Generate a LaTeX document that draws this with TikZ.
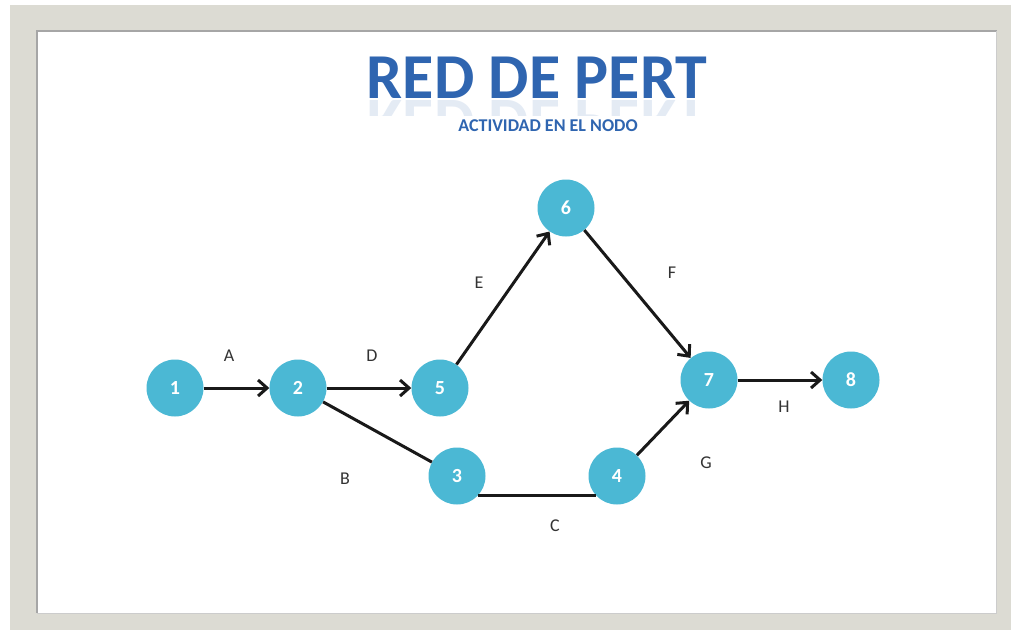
\documentclass[tikz,border=0pt]{standalone}
\usepackage{fontspec}
\setmainfont{Carlito}
\usetikzlibrary{arrows.meta,fadings}
\definecolor{nodeblue}{HTML}{4BB8D4}
\definecolor{titleblue}{HTML}{2F65B0}
\definecolor{frame}{HTML}{DCDBD3}
\definecolor{labelgray}{HTML}{333333}
\tikzset{
  pnode/.style={circle,fill=nodeblue,minimum size=57pt,inner sep=0pt,text=white,font=\fontsize{20}{22}\selectfont\bfseries},
  act/.style={line width=3pt,draw=black!90,-{Straight Barb[length=9pt,width=16pt,line width=3pt]}},
  actplain/.style={line width=3pt,draw=black!90},
  lbl/.style={text=labelgray,font=\fontsize{18}{20}\selectfont},
  titlefont/.style={text=titleblue,font=\fontsize{64}{64}\selectfont\bfseries}
}
\begin{document}
\begin{tikzpicture}[x=1pt,y=-1pt]
\useasboundingbox (0,0) rectangle (1011,630);
\fill[white] (0,0) rectangle (1011,630);
\fill[frame] (10,5) rectangle (1011,630);
\fill[white] (36,30) rectangle (997,613);
\draw[gray!70,line width=1.2pt] (37,613) -- (37,31) -- (997,31);
\draw[gray!40,line width=1pt] (996,31) -- (996,613) -- (37,613);
% title
\node[titlefont,anchor=base] (title) at (537,98) {RED DE PERT};
\begin{scope}
\clip (300,99) rectangle (760,115);
\node[titlefont,opacity=0.13,anchor=base,yscale=-1] (refl) at (537,100) {RED DE PERT};
\end{scope}
\node[text=titleblue,font=\fontsize{18}{18}\selectfont\bfseries,anchor=base] (sub) at (548,131) {ACTIVIDAD EN EL NODO};
% nodes
\node[pnode] (n1) at (175,388) {1};
\node[pnode] (n2) at (298,388) {2};
\node[pnode] (n5) at (440,388) {5};
\node[pnode] (n6) at (566,208) {6};
\node[pnode] (n3) at (457,476) {3};
\node[pnode] (n4) at (617,476) {4};
\node[pnode] (n7) at (709,380) {7};
\node[pnode] (n8) at (851,380) {8};
% connectors
\draw[act] (n1) -- (n2);
\draw[act] (n2) -- (n5);
\draw[act] (n5) -- (n6);
\draw[act] (n6) -- (n7);
\draw[actplain] (n2) -- (n3);
\draw[actplain] (n3.-42) -- (n4.-138);
\draw[act] (n4) -- (n7);
\draw[act] (n7) -- (n8);
% labels
\node[lbl] (la) at (229,356) {A};
\node[lbl] (ld) at (372,356) {D};
\node[lbl] (le) at (479,283) {E};
\node[lbl] (lf) at (672,273) {F};
\node[lbl] (lb) at (345,479) {B};
\node[lbl] (lc) at (555,526) {C};
\node[lbl] (lg) at (706,463) {G};
\node[lbl] (lh) at (784,407) {H};
\end{tikzpicture}
\end{document}
